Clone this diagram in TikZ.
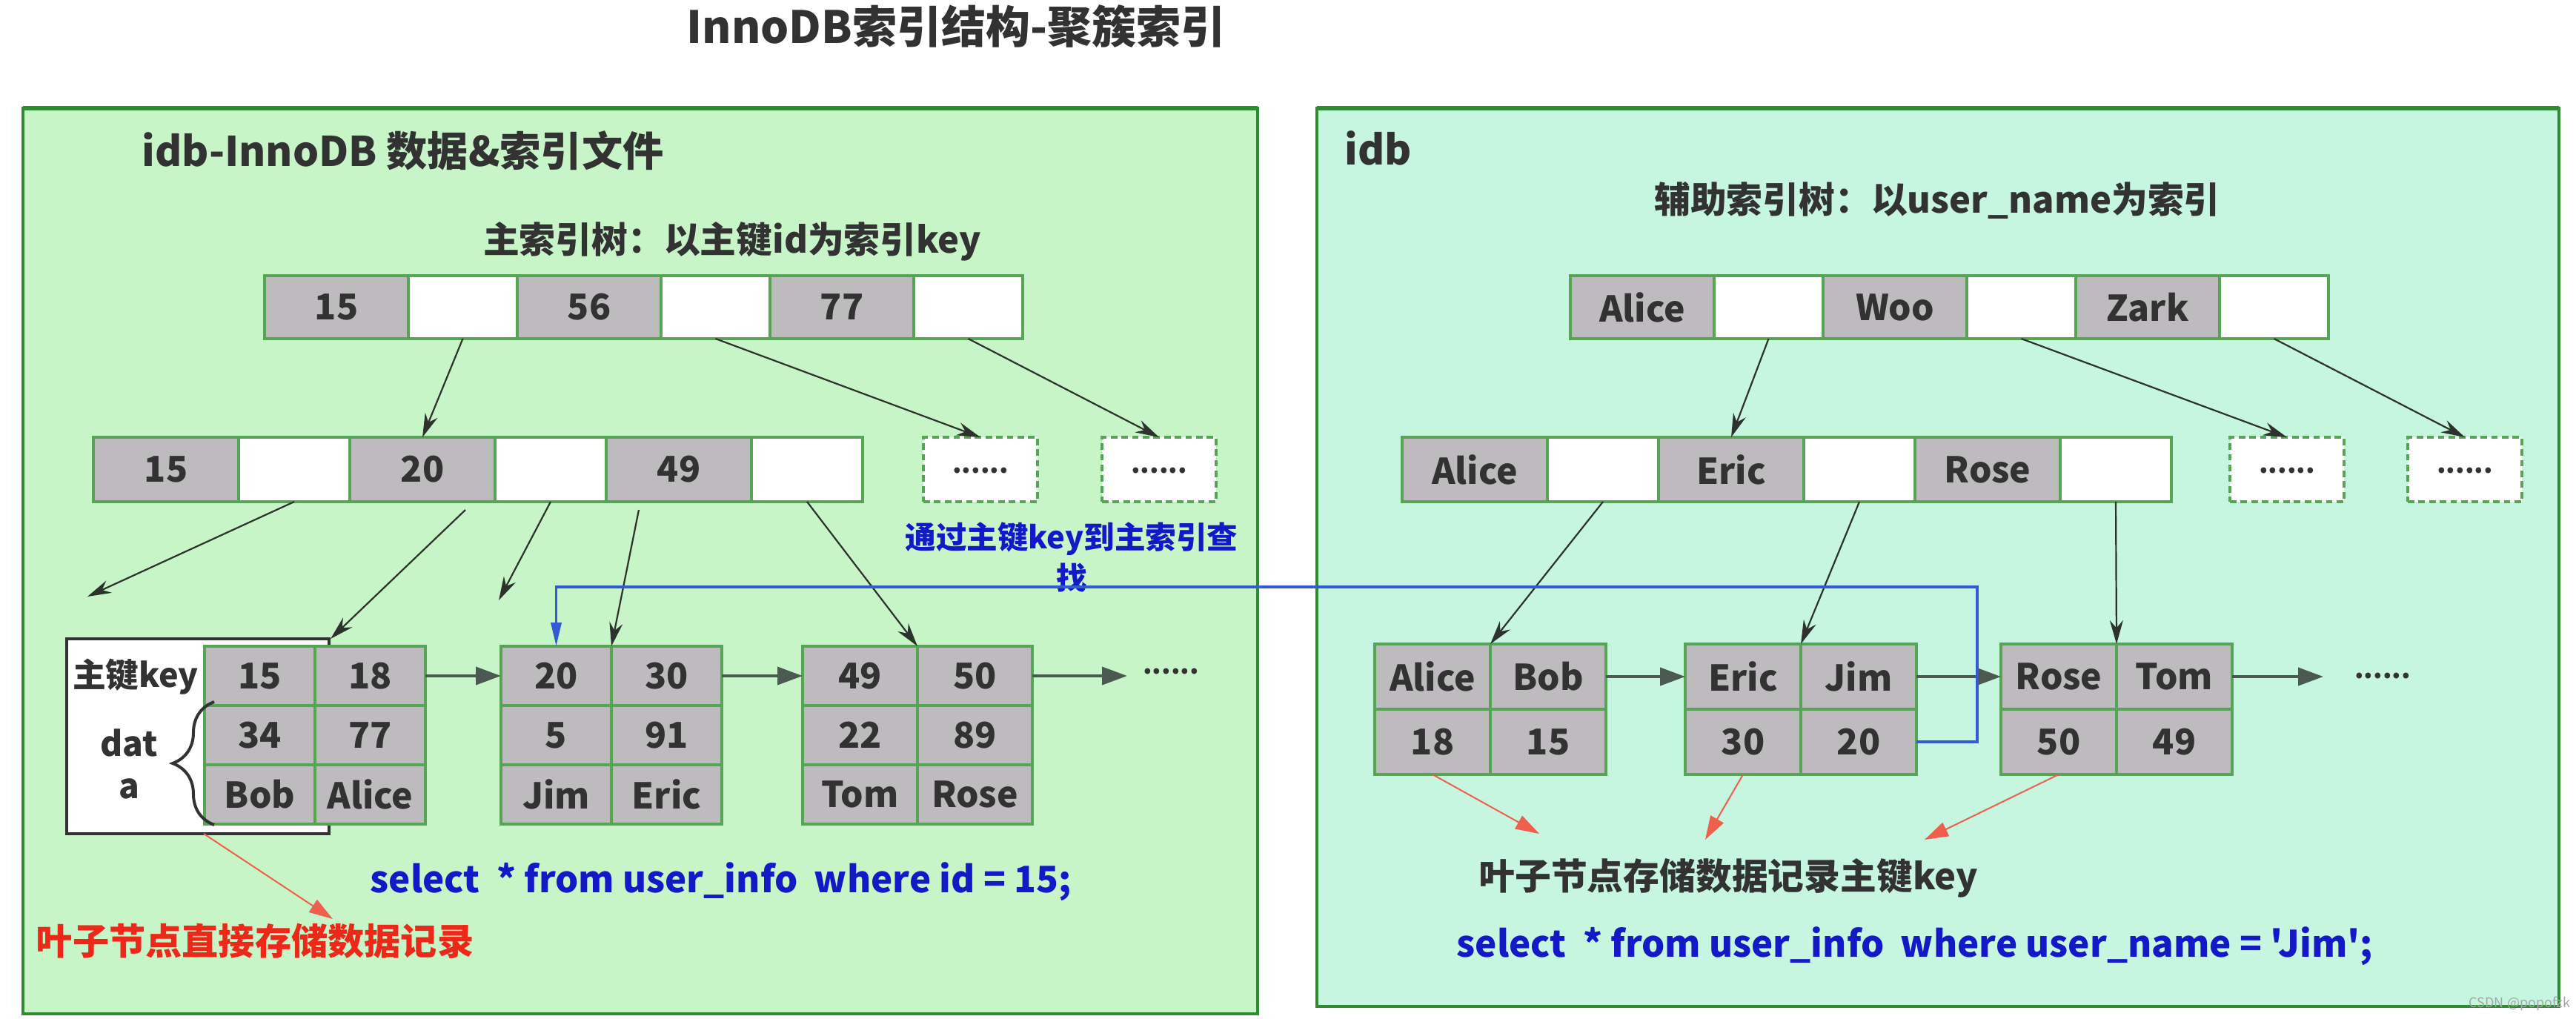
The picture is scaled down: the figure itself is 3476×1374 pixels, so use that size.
\documentclass[tikz,border=0pt]{standalone}
\usepackage{fontspec}
\newfontfamily\nf{Noto Sans CJK SC}
\usetikzlibrary{arrows.meta,calc,decorations.pathreplacing}
\definecolor{panelL}{RGB}{200,245,200}
\definecolor{panelR}{RGB}{198,245,224}
\definecolor{panelB}{RGB}{45,140,45}
\definecolor{cellG}{RGB}{190,187,190}
\definecolor{cellB}{RGB}{85,165,85}
\definecolor{txt}{RGB}{50,50,50}
\definecolor{arr}{RGB}{45,50,45}
\definecolor{larr}{RGB}{75,90,80}
\definecolor{redT}{RGB}{238,40,25}
\definecolor{redA}{RGB}{240,95,75}
\definecolor{blueT}{RGB}{20,25,200}
\definecolor{blueL}{RGB}{50,90,210}
\tikzset{
  cellbase/.style={rectangle, draw=cellB, line width=0.8pt, inner sep=0pt, outer sep=0pt,
    font={\nf\fontsize{12}{14}\selectfont\bfseries}, text=txt, anchor=west},
  gcell/.style={cellbase, fill=cellG},
  wcell/.style={cellbase, fill=white},
  topG/.style={gcell, minimum width=48.5pt, minimum height=21.25pt},
  topW/.style={wcell, minimum width=36.75pt, minimum height=21.25pt},
  secG/.style={gcell, minimum width=49pt, minimum height=21.75pt},
  secW/.style={wcell, minimum width=37.5pt, minimum height=21.75pt},
  leafL/.style={gcell, minimum width=37.25pt, minimum height=20pt},
  leafLL/.style={gcell, minimum width=38.75pt, minimum height=20pt},
  leafR/.style={gcell, minimum width=39pt, minimum height=22pt},
  dbox/.style={rectangle, draw=cellB, line width=0.8pt, dash pattern=on 2.2pt off 1.4pt, fill=white,
    minimum width=38.5pt, minimum height=21.75pt, inner sep=0pt, outer sep=0pt,
    font={\nf\fontsize{9}{10}\selectfont\bfseries}, text=txt, anchor=north west},
  dotsnode/.style={font={\nf\fontsize{9}{10}\selectfont\bfseries}, text=txt, inner sep=0pt},
  hdr/.style={font={\nf\fontsize{13.8}{15}\selectfont\bfseries}, text=txt, inner sep=0pt, anchor=west},
  subt/.style={font={\nf\fontsize{12.2}{14}\selectfont\bfseries}, text=txt, inner sep=0pt},
  sqltxt/.style={font={\nf\fontsize{12.3}{14}\selectfont\bfseries}, text=blueT, inner sep=0pt, anchor=west},
  tarr/.style={draw=arr, line width=0.55pt, -{Stealth[length=8pt,width=4.5pt]}},
  harr/.style={draw=larr, line width=1pt, -{Triangle[length=8.5pt,width=6pt]}},
  rarr/.style={draw=redA, line width=0.5pt, -{Triangle[length=8pt,width=5pt]}},
  barr/.style={draw=blueL, line width=0.9pt, -{Triangle[length=8pt,width=3.5pt]}},
}
\begin{document}
\begin{tikzpicture}[x=0.25pt,y=-0.25pt]
\useasboundingbox (0,0) rectangle (3476,1374);
\fill[white] (0,0) rectangle (3476,1374);
% panels
\draw[fill=panelL, draw=panelB, line width=1.1pt] (31,146) rectangle (1697,1368);
\draw[fill=panelR, draw=panelB, line width=1.1pt] (1777,146) rectangle (3453,1358);
\draw[draw=panelB, line width=1.6pt] (31,146) -- (1697,146);
\draw[draw=panelB, line width=1.6pt] (1777,146) -- (3453,146);
% title & headers
\node[font={\nf\fontsize{15}{17}\selectfont\bfseries}, text=txt, inner sep=0pt] (title) at (1290,36) {InnoDB索引结构-聚簇索引};
\node[hdr] (hdrL) at (191,203) {idb-InnoDB 数据\&索引文件};
\node[subt] (subL) at (988,326) {主索引树：以主键id为索引key};
\node[hdr] (hdrR) at (1814,200) {idb};
\node[subt] (subR) at (2614,270) {辅助索引树：以user\_name为索引};
% ---------- left tree ----------
\node[topG, anchor=north west] (t1) at (357,372) {15};
\node[topW] (t2) at (t1.east) {};
\node[topG] (t3) at (t2.east) {56};
\node[topW] (t4) at (t3.east) {};
\node[topG] (t5) at (t4.east) {77};
\node[topW] (t6) at (t5.east) {};
\node[secG, anchor=north west] (s1) at (126,590) {15};
\node[secW] (s2) at (s1.east) {};
\node[secG] (s3) at (s2.east) {20};
\node[secW] (s4) at (s3.east) {};
\node[secG] (s5) at (s4.east) {49};
\node[secW] (s6) at (s5.east) {};
\node[dbox] (d1) at (1246,590) {\raisebox{-2.5pt}{......}};
\node[dbox] (d2) at (1487,590) {\raisebox{-2.5pt}{......}};
% key box
\node[rectangle, draw=txt, fill=white, line width=1pt, minimum width=88.5pt, minimum height=65.75pt,
  inner sep=0pt, outer sep=0pt, anchor=north west] (keybox) at (90,862) {};
\node[font={\nf\fontsize{11.2}{13}\selectfont\bfseries}, text=txt, inner sep=0pt] (keylbl) at (183,913) {主键key};
\node[font={\nf\fontsize{11.5}{14.25}\selectfont\bfseries}, text=txt, inner sep=0pt, align=center] (datalbl) at (174,1031) {dat\\a};
% left leaves
\node[leafL, anchor=north west] (L1a) at (276,872) {15};
\node[leafL] (L1b) at (L1a.east) {18};
\node[leafL, anchor=north] (L1c) at (L1a.south) {34};
\node[leafL, anchor=north] (L1d) at (L1b.south) {77};
\node[leafL, anchor=north] (L1e) at (L1c.south) {Bob};
\node[leafL, anchor=north] (L1f) at (L1d.south) {Alice};
\node[leafL, anchor=north west] (L2a) at (676,872) {20};
\node[leafL] (L2b) at (L2a.east) {30};
\node[leafL, anchor=north] (L2c) at (L2a.south) {5};
\node[leafL, anchor=north] (L2d) at (L2b.south) {91};
\node[leafL, anchor=north] (L2e) at (L2c.south) {Jim};
\node[leafL, anchor=north] (L2f) at (L2d.south) {Eric};
\node[leafLL, anchor=north west] (L3a) at (1083,872) {49};
\node[leafLL] (L3b) at (L3a.east) {50};
\node[leafLL, anchor=north] (L3c) at (L3a.south) {22};
\node[leafLL, anchor=north] (L3d) at (L3b.south) {89};
\node[leafLL, anchor=north] (L3e) at (L3c.south) {Tom};
\node[leafLL, anchor=north] (L3f) at (L3d.south) {Rose};
\draw[draw=txt, line width=1pt, decorate, decoration={brace, amplitude=14pt}] (289,1113) -- (289,947);
% left arrows
\draw[tarr] (t2.south) -- (s3.north);
\draw[tarr] (t4.south) -- (d1.north);
\draw[tarr] (t6.south) -- (d2.north);
\coordinate (fe1) at (118,805);
\coordinate (fe2) at (673,810);
\coordinate (st2) at (628,688);
\coordinate (st4) at (862,688);
\coordinate (kb) at (446,862);
\draw[tarr] (s2.south) -- (fe1);
\draw[tarr] (st2) -- (kb);
\draw[tarr] (s4.south) -- (fe2);
\draw[tarr] (st4) -- (L2a.north east);
\draw[tarr] (s6.south) -- (L3a.north east);
\coordinate (fe3) at (1521,912);
\draw[harr] (L1b.east) -- (L2a.west);
\draw[harr] (L2b.east) -- (L3a.west);
\draw[harr] (L3b.east) -- (fe3);
\node[dotsnode] (dotsL) at (1580,906) {......};
% left texts
\coordinate (rs) at (275,1125);
\coordinate (re) at (449,1240);
\draw[rarr] (rs) -- (re);
\node[font={\nf\fontsize{12.3}{14}\selectfont\bfseries}, text=redT, inner sep=0pt] (noteL) at (344,1270) {叶子节点直接存储数据记录};
\node[sqltxt] (sqlL) at (499,1190) {select\ \ * from user\_info\ \ where id = 15;};
\node[font={\nf\fontsize{10.4}{13.75}\selectfont\bfseries}, text=blueT, inner sep=0pt, align=center] (lookup) at (1446,752) {通过主键key到主索引查\\找};
% ---------- right tree ----------
\node[topG, anchor=north west] (rt1) at (2119,372) {Alice};
\node[topW] (rt2) at (rt1.east) {};
\node[topG] (rt3) at (rt2.east) {Woo};
\node[topW] (rt4) at (rt3.east) {};
\node[topG] (rt5) at (rt4.east) {Zark};
\node[topW] (rt6) at (rt5.east) {};
\node[secG, anchor=north west] (rs1) at (1892,590) {Alice};
\node[secW] (rs2) at (rs1.east) {};
\node[secG] (rs3) at (rs2.east) {Eric};
\node[secW] (rs4) at (rs3.east) {};
\node[secG] (rs5) at (rs4.east) {Rose};
\node[secW] (rs6) at (rs5.east) {};
\node[dbox] (rd1) at (3009,590) {\raisebox{-2.5pt}{......}};
\node[dbox] (rd2) at (3249,590) {\raisebox{-2.5pt}{......}};
\node[leafR, anchor=north west] (R1a) at (1855,869) {Alice};
\node[leafR] (R1b) at (R1a.east) {Bob};
\node[leafR, anchor=north] (R1c) at (R1a.south) {18};
\node[leafR, anchor=north] (R1d) at (R1b.south) {15};
\node[leafR, anchor=north west] (R2a) at (2274,869) {Eric};
\node[leafR] (R2b) at (R2a.east) {Jim};
\node[leafR, anchor=north] (R2c) at (R2a.south) {30};
\node[leafR, anchor=north] (R2d) at (R2b.south) {20};
\node[leafR, anchor=north west] (R3a) at (2700,869) {Rose};
\node[leafR] (R3b) at (R3a.east) {Tom};
\node[leafR, anchor=north] (R3c) at (R3a.south) {50};
\node[leafR, anchor=north] (R3d) at (R3b.south) {49};
\draw[tarr] (rt2.south) -- (rs3.north);
\draw[tarr] (rt4.south) -- (rd1.north);
\draw[tarr] (rt6.south) -- (rd2.north);
\draw[tarr] (rs2.south) -- (R1a.north east);
\draw[tarr] (rs4.south) -- (R2a.north east);
\draw[tarr] (rs6.south) -- (R3a.north east);
\coordinate (fe4) at (3135,913);
\draw[harr] (R1b.east) -- (R2a.west);
\draw[harr] (R2b.east) -- (R3a.west);
\draw[harr] (R3b.east) -- (fe4);
\node[dotsnode] (dotsR) at (3215,912) {......};
\coordinate (re1) at (2077,1125);
\coordinate (re2) at (2301,1133);
\coordinate (re3) at (2597,1133);
\draw[rarr] (R1c.south) -- (re1);
\draw[rarr] (R2c.south) -- (re2);
\draw[rarr] (R3c.south) -- (re3);
\node[font={\nf\fontsize{12.2}{14}\selectfont\bfseries}, text=txt, inner sep=0pt] (noteR) at (2332,1185) {叶子节点存储数据记录主键key};
\node[sqltxt] (sqlR) at (1965,1277) {select\ \ * from user\_info\ \ where user\_name = 'Jim';};
% blue lookup path
\draw[barr] (R2d.east) -- ++(82,0) |- ($(L2a.north)+(0,-80)$) -- (L2a.north);
% watermark
\node[font={\nf\fontsize{4.5}{5}\selectfont}, text=gray!70, inner sep=0pt] (wm) at (3400,1354) {CSDN @popofzk};
\end{tikzpicture}
\end{document}
